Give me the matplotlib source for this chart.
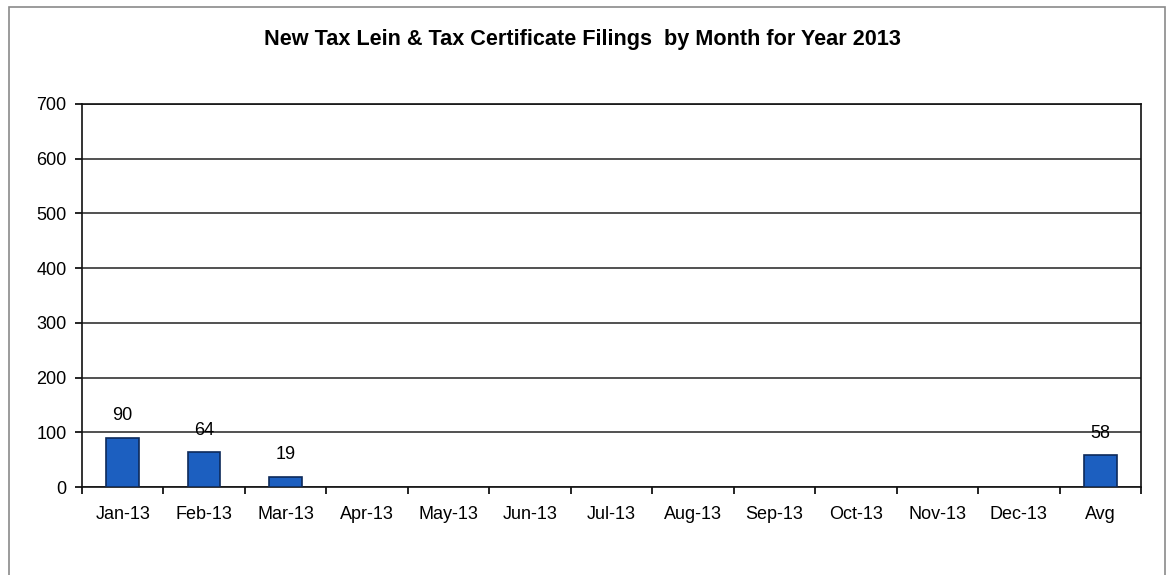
import matplotlib.pyplot as plt
from matplotlib.patches import Rectangle
import numpy as np

plt.rcParams['font.family'] = ['Liberation Sans', 'DejaVu Sans']

months = ['Jan-13', 'Feb-13', 'Mar-13', 'Apr-13', 'May-13', 'Jun-13', 'Jul-13',
          'Aug-13', 'Sep-13', 'Oct-13', 'Nov-13', 'Dec-13', 'Avg']
filings = [90, 64, 19, 0, 0, 0, 0, 0, 0, 0, 0, 0, 58]
labels = ['90', '64', '19', '', '', '', '', '', '', '', '', '', '58']
yticks = [0, 100, 200, 300, 400, 500, 600, 700]

W, H = 1169, 575
fig = plt.figure(figsize=(W / 100, H / 100), dpi=100)

# outer chart frame (bottom edge is cut off in the scan)
fig.patches.append(Rectangle((9 / W, -0.05), (1165 - 9) / W, 1.05 - 7 / H,
                             transform=fig.transFigure, fill=False,
                             edgecolor='#8a8a8a', linewidth=1.2))

ax = fig.add_axes([82 / W, 1 - 487 / H, (1141 - 82) / W, (487 - 104) / H])

x = np.arange(len(months))
lw = [1.2 if v > 0 else 0 for v in filings]
ax.bar(x, filings, width=0.4, color='#1c5fc0', edgecolor='#0d2a5a',
       linewidth=lw, zorder=3)
for xi, v, lab in zip(x, filings, labels):
    if lab:
        ax.text(xi, v + 40, lab, ha='center', va='center', fontsize=13, zorder=4)

ax.set_xlim(-0.5, len(months) - 0.5)
ax.set_ylim(0, 700)
ax.set_yticks(yticks)
ax.yaxis.grid(True, color='#222222', linewidth=1.1, zorder=1)
ax.set_xticks(x)
ax.set_xticklabels(months, fontsize=13)
ax.set_xticks(np.arange(len(months) + 1) - 0.5, minor=True)
ax.tick_params(axis='x', which='major', length=0, pad=14)
ax.tick_params(axis='x', which='minor', length=5, width=1.2, direction='out')
ax.tick_params(axis='y', labelsize=13, length=5, width=1.2, pad=6)
for s in ax.spines.values():
    s.set_linewidth(1.2)
    s.set_color('#111111')

fig.text(582 / W, 1 - 40 / H,
         'New Tax Lein & Tax Certificate Filings  by Month for Year 2013',
         ha='center', va='center', fontsize=15.6, fontweight='bold')

fig.savefig('out.png', dpi=100)
